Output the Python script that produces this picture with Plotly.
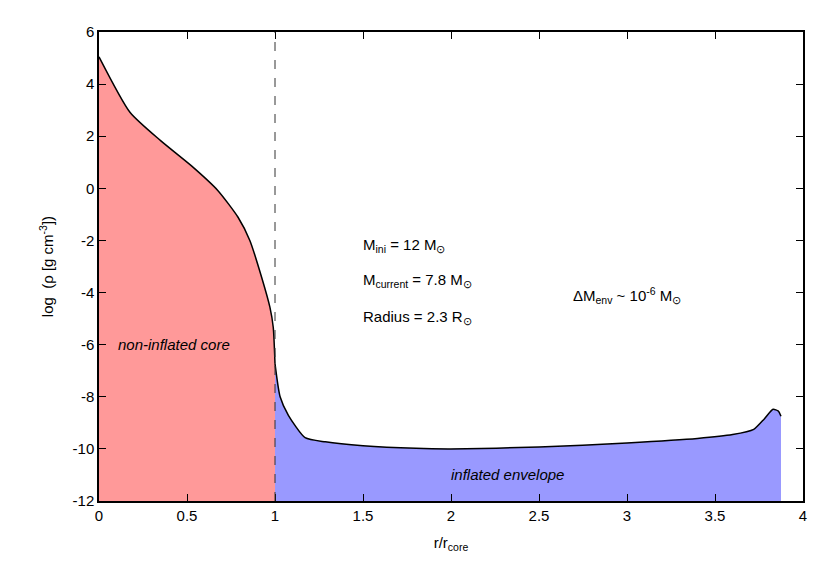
import plotly.graph_objects as go

# density profile
r_core = [0.0, 0.177, 0.35, 0.524, 0.676, 0.79, 0.857, 0.924, 0.971, 0.99, 1.0]
rho_core = [5.05, 2.91, 1.83, 0.87, -0.09, -1.11, -2.0, -3.41, -4.56, -5.33, -6.73]
r_env = [1.0, 1.029, 1.076, 1.171, 1.286, 1.5, 1.8, 2.0, 2.5, 3.0, 3.4, 3.6, 3.72, 3.78, 3.83, 3.86, 3.875]
rho_env = [-6.73, -8.0, -8.71, -9.57, -9.73, -9.88, -9.98, -10.0, -9.93, -9.77, -9.6, -9.45, -9.25, -8.85, -8.48, -8.55, -8.75]
y_floor = -12
x_ticks = [0, 0.5, 1, 1.5, 2, 2.5, 3, 3.5, 4]
x_labels = ["0", "0.5", "1", "1.5", "2", "2.5", "3", "3.5", "4"]
y_ticks = [-12, -10, -8, -6, -4, -2, 0, 2, 4, 6]
y_labels = ["-12", "-10", "-8", "-6", "-4", "-2", "0", "2", "4", "6"]

font = "Liberation Sans, Arial, sans-serif"
fig = go.Figure()

# baselines + filled areas
fig.add_trace(go.Scatter(x=r_core, y=[y_floor] * len(r_core), mode="lines",
                         line=dict(width=0), showlegend=False, hoverinfo="skip"))
fig.add_trace(go.Scatter(x=r_core, y=rho_core, mode="lines", fill="tonexty",
                         fillcolor="#ff9999", line=dict(color="black", width=1.5, shape="spline", smoothing=0.6),
                         showlegend=False))
fig.add_trace(go.Scatter(x=r_env, y=[y_floor] * len(r_env), mode="lines",
                         line=dict(width=0), showlegend=False, hoverinfo="skip"))
fig.add_trace(go.Scatter(x=r_env, y=rho_env, mode="lines", fill="tonexty",
                         fillcolor="#9999ff", line=dict(color="black", width=1.5, shape="spline", smoothing=0.6),
                         showlegend=False))

# core boundary
fig.add_shape(type="line", x0=1, x1=1, y0=y_floor, y1=6, layer="above",
              line=dict(color="#333", width=1, dash="dash"))

notes = [
    (1.49, -2.2, "M<sub>ini</sub> = 12 M<sub>⊙</sub>"),
    (1.49, -3.55, "M<sub>current</sub> = 7.8 M<sub>⊙</sub>"),
    (1.49, -4.95, "Radius = 2.3 R<sub>⊙</sub>"),
    (2.68, -4.1, "ΔM<sub>env</sub> ~ 10<sup>-6</sup> M<sub>⊙</sub>"),
    (0.095, -6.0, "<i>non-inflated core</i>"),
    (1.99, -11.0, "<i>inflated envelope</i>"),
]
for x, y, t in notes:
    fig.add_annotation(x=x, y=y, text=t, showarrow=False, xanchor="left",
                       font=dict(size=15, color="black", family=font))

axis = dict(showline=True, linecolor="black", linewidth=1.5, mirror="allticks",
            ticks="inside", ticklen=7, tickcolor="black", showgrid=False,
            zeroline=False, automargin=False,
            tickfont=dict(size=15, color="black", family=font))
fig.update_xaxes(range=[0, 4], tickvals=x_ticks, ticktext=x_labels,
                 title=dict(text="r/r<sub>core</sub>", font=dict(size=15, color="black", family=font)),
                 **axis)
fig.update_yaxes(range=[-12, 6], tickvals=y_ticks, ticktext=y_labels,
                 title=dict(text="log  (ρ [g cm<sup>-3</sup>])", font=dict(size=15, color="black", family=font)),
                 **axis)
fig.update_layout(width=830, height=581,
                  plot_bgcolor="white", paper_bgcolor="white",
                  font=dict(family=font, color="black", size=15),
                  margin=dict(l=91, r=35, t=24, b=88))
fig.write_html("out.html")
